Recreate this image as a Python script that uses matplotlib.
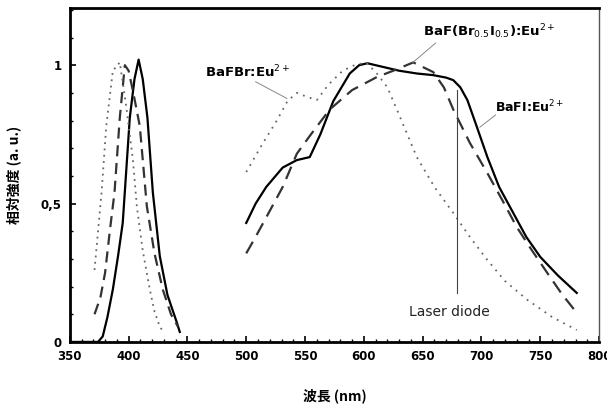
import numpy as np
import matplotlib.pyplot as plt
from matplotlib.ticker import MultipleLocator

plt.rcParams['font.family'] = ['Noto Sans CJK JP', 'DejaVu Sans']

# 左侧发光峰 (nm, 相对强度)
em_solid_x = [350, 365, 374, 378, 382, 386.6, 391, 395, 401, 405, 408.5, 412, 416, 420.6, 426.5, 433, 441, 443.5]
em_solid_y = [0.0, 0.0, 0.0, 0.02, 0.09, 0.19, 0.31, 0.43, 0.81, 0.95, 1.02, 0.95, 0.81, 0.54, 0.31, 0.17, 0.07, 0.036]

em_dash_x = [371, 376, 380, 384, 388, 392.5, 396.8, 400, 404, 409.5, 415.5, 422, 429, 436, 442]
em_dash_y = [0.10, 0.16, 0.25, 0.40, 0.54, 0.81, 1.0, 0.98, 0.90, 0.78, 0.49, 0.32, 0.19, 0.10, 0.055]

em_dot_x = [371, 374, 377, 381, 386.6, 392.5, 398, 403.6, 407, 412, 418, 422, 426.5, 429]
em_dot_y = [0.26, 0.40, 0.54, 0.78, 0.98, 1.01, 0.85, 0.66, 0.49, 0.33, 0.19, 0.11, 0.055, 0.04]

# 右侧激励谱
bafi_x = [500, 508, 517, 531, 543, 554, 563, 574, 588, 596, 603, 615, 630, 645, 659, 670, 676, 682, 688, 695, 705, 715, 727, 738, 750, 765, 781]
bafi_y = [0.43, 0.50, 0.56, 0.63, 0.657, 0.668, 0.75, 0.87, 0.97, 1.0, 1.007, 0.995, 0.98, 0.97, 0.964, 0.955, 0.946, 0.92, 0.874, 0.79, 0.668, 0.56, 0.466, 0.38, 0.307, 0.24, 0.177]

babri_x = [500, 508, 517, 531, 543, 555, 571, 590, 611, 625, 642, 659, 668, 676, 690, 705, 718, 730, 743, 756, 768, 781]
babri_y = [0.32, 0.38, 0.45, 0.56, 0.68, 0.75, 0.84, 0.91, 0.957, 0.98, 1.01, 0.975, 0.92, 0.84, 0.72, 0.61, 0.51, 0.415, 0.33, 0.249, 0.175, 0.105]

bafbr_x = [500, 513, 526, 535, 543, 552, 560, 570, 582, 592, 602, 611, 620, 632, 645, 660, 676, 690, 705, 720, 739, 760, 781]
bafbr_y = [0.614, 0.71, 0.80, 0.87, 0.90, 0.885, 0.874, 0.93, 0.98, 1.0, 1.01, 0.97, 0.92, 0.80, 0.668, 0.56, 0.466, 0.38, 0.296, 0.22, 0.152, 0.09, 0.043]

laser_nm = 678.8
xticks = [350, 400, 450, 500, 550, 600, 650, 700, 750, 800]
yticks = [0, 0.5, 1]
ytick_labels = ['0', '0,5', '1']

fig = plt.figure(figsize=(6.07, 4.09), dpi=100)
ax = fig.add_axes([0.115, 0.164, 0.872, 0.816])

ax.plot(em_solid_x, em_solid_y, color='black', lw=1.6)
ax.plot(em_dash_x, em_dash_y, color='#333333', lw=1.6, ls=(0, (5, 3)))
ax.plot(em_dot_x, em_dot_y, color='#666666', lw=1.3, ls=(0, (1, 2.5)))

ax.plot(bafi_x, bafi_y, color='black', lw=1.6)
ax.plot(babri_x, babri_y, color='#333333', lw=1.6, ls=(0, (6, 3.5)))
ax.plot(bafbr_x, bafbr_y, color='#666666', lw=1.3, ls=(0, (1, 3)))

# Laser diode
ax.plot([laser_nm, laser_nm], [0.177, 0.91], color='#444444', lw=0.8)
ax.text(673, 0.108, 'Laser diode', ha='center', va='center', fontsize=10,
        family=['DejaVu Sans'], color='#222222')

# 标注
ax.text(501, 0.975, 'BaFBr:Eu$^{2+}$', ha='center', va='center', fontsize=9.5,
        family=['DejaVu Sans'], fontweight='bold')
ax.plot([508, 534.5], [0.94, 0.88], color='#888888', lw=0.7)
ax.text(707, 1.12, 'BaF(Br$_{0.5}$I$_{0.5}$):Eu$^{2+}$', ha='center', va='center', fontsize=9.5,
        family=['DejaVu Sans'], fontweight='bold')
ax.plot([661, 641.7], [1.08, 1.01], color='#888888', lw=0.7)
ax.text(741, 0.85, 'BaFI:Eu$^{2+}$', ha='center', va='center', fontsize=9,
        family=['DejaVu Sans'], fontweight='bold')
ax.plot([712, 698.6], [0.82, 0.776], color='#888888', lw=0.7)

ax.set_xlim(350, 800)
ax.set_ylim(0, 1.206)
ax.set_xticks(xticks)
ax.set_xticklabels([str(t) for t in xticks], fontweight='bold', fontsize=8.5, family=['DejaVu Sans'])
ax.set_yticks(yticks)
ax.set_yticklabels(ytick_labels, fontweight='bold', fontsize=8.5, family=['DejaVu Sans'])
ax.xaxis.set_minor_locator(MultipleLocator(10))
ax.yaxis.set_minor_locator(MultipleLocator(0.1))
ax.tick_params(which='both', direction='in', top=False, right=False)
ax.tick_params(which='major', length=4, width=1.2, pad=6)
ax.tick_params(which='minor', length=2.5, width=1)

for s in ['left', 'bottom', 'top']:
    ax.spines[s].set_linewidth(2)
ax.spines['right'].set_linewidth(1)
ax.spines['right'].set_color('#555555')

ax.set_xlabel('波長 (nm)', fontsize=10, fontweight='bold', labelpad=18)
ax.set_ylabel('相対強度 (a. u.)', fontsize=10, fontweight='bold', labelpad=14)

fig.savefig('out.png', dpi=100)
